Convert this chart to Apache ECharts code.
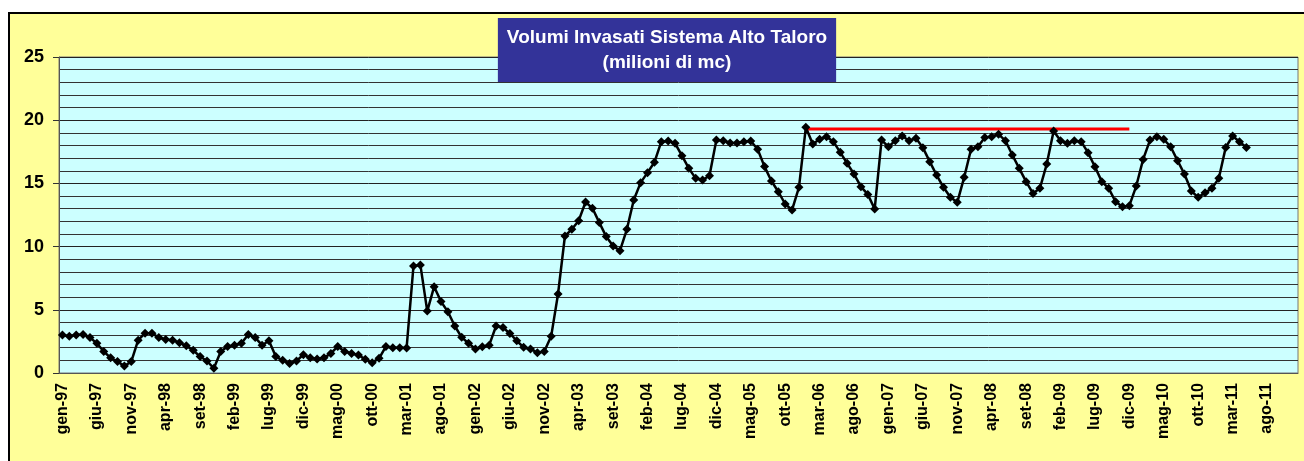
<!DOCTYPE html>
<html>
<head>
<meta charset="utf-8">
<script src="https://cdn.jsdelivr.net/npm/echarts@6/dist/echarts.min.js"></script>
<style>
    body { margin: 0; background: #ffffff; overflow: hidden; }
    #frame {
        position: absolute;
        left: 8px;
        top: 12px;
        width: 1320px;
        height: 470px;
        border: 2px solid #000;
        background: #ffff99;
    }
    #chart {
        position: absolute;
        left: 0;
        top: 0;
        width: 1304px;
        height: 461px;
    }
</style>
</head>
<body>
<div id="frame"></div>
<div id="chart"></div>
<script>
// mesi e anni per le etichette dell'asse
const months = ['gen', 'feb', 'mar', 'apr', 'mag', 'giu', 'lug', 'ago', 'set', 'ott', 'nov', 'dic']
const years = ['97', '98', '99', '00', '01', '02', '03', '04', '05', '06', '07', '08', '09', '10', '11']

// volumi invasati (milioni di mc), un array per anno
const vol1997 = [3.0, 2.9, 3.0, 3.05, 2.8, 2.35, 1.7, 1.2, 0.9, 0.55, 0.9, 2.6]
const vol1998 = [3.15, 3.15, 2.8, 2.65, 2.6, 2.4, 2.15, 1.8, 1.3, 0.95, 0.37, 1.7]
const vol1999 = [2.1, 2.2, 2.35, 3.05, 2.8, 2.2, 2.55, 1.3, 1.0, 0.75, 0.95, 1.45]
const vol2000 = [1.2, 1.1, 1.2, 1.55, 2.1, 1.7, 1.55, 1.42, 1.08, 0.82, 1.16, 2.1]
const vol2001 = [2.0, 2.0, 1.98, 8.47, 8.55, 4.9, 6.83, 5.65, 4.85, 3.72, 2.82, 2.35]
const vol2002 = [1.9, 2.08, 2.2, 3.72, 3.6, 3.13, 2.55, 2.03, 1.9, 1.6, 1.7, 2.9]
const vol2003 = [6.25, 10.84, 11.37, 12.05, 13.53, 13.03, 11.9, 10.79, 10.05, 9.68, 11.37, 13.69]
const vol2004 = [15.06, 15.85, 16.67, 18.3, 18.36, 18.17, 17.19, 16.19, 15.4, 15.27, 15.61, 18.43]
const vol2005 = [18.38, 18.2, 18.2, 18.3, 18.35, 17.7, 16.33, 15.19, 14.34, 13.37, 12.9, 14.69]
const vol2006 = [19.44, 18.12, 18.5, 18.7, 18.3, 17.46, 16.59, 15.74, 14.74, 14.13, 12.97, 18.43]
const vol2007 = [17.9, 18.38, 18.75, 18.38, 18.57, 17.83, 16.72, 15.66, 14.69, 13.9, 13.5, 15.48]
const vol2008 = [17.7, 17.9, 18.64, 18.7, 18.88, 18.38, 17.25, 16.19, 15.14, 14.21, 14.61, 16.53]
const vol2009 = [19.15, 18.38, 18.17, 18.38, 18.3, 17.43, 16.32, 15.14, 14.61, 13.55, 13.16, 13.24]
const vol2010 = [14.79, 16.9, 18.43, 18.7, 18.49, 17.9, 16.8, 15.74, 14.4, 13.9, 14.27, 14.61]
const vol2011 = [15.4, 17.85, 18.75, 18.3, 17.85]

// linea rossa del massimo invaso
const maxLevel = 19.3
const maxFrom = 'gen-06'
const maxTo = 'dic-09'

let categories = []
years.forEach(y => months.forEach(m => categories.push(m + '-' + y)))

const volumes = [].concat(vol1997, vol1998, vol1999, vol2000, vol2001, vol2002, vol2003,
    vol2004, vol2005, vol2006, vol2007, vol2008, vol2009, vol2010, vol2011)

const iFrom = categories.indexOf(maxFrom)
const iTo = categories.indexOf(maxTo)
const maxLine = categories.map((c, i) => (i >= iFrom && i <= iTo) ? maxLevel : null)

const font = '"Liberation Sans", Arial, sans-serif'

let chart = echarts.init(document.querySelector('#chart'))
chart.setOption({
    animation: false,
    backgroundColor: 'transparent',
    title: {
        text: 'Volumi Invasati Sistema Alto Taloro\n(milioni di mc)',
        left: 658,
        top: 18,
        textAlign: 'center',
        backgroundColor: '#333399',
        padding: [7, 9, 7, 9],
        textStyle: {
            color: '#ffffff',
            fontSize: 19,
            fontWeight: 'bold',
            fontFamily: font,
            lineHeight: 25
        }
    },
    grid: {
        left: 59,
        top: 57,
        right: 6,
        bottom: 88,
        show: true,
        backgroundColor: '#ccffff',
        borderColor: '#777',
        borderWidth: 1
    },
    xAxis: {
        type: 'category',
        data: categories,
        boundaryGap: true,
        axisLine: { lineStyle: { color: '#555', width: 1 } },
        axisTick: { interval: 4, length: 5, lineStyle: { color: '#333' } },
        axisLabel: {
            interval: 4,
            rotate: 90,
            margin: 10,
            color: '#000',
            fontSize: 16,
            fontWeight: 'bold',
            fontFamily: font
        },
        splitLine: { show: false }
    },
    yAxis: {
        type: 'value',
        min: 0,
        max: 25,
        interval: 5,
        axisLine: { show: true, lineStyle: { color: '#555' } },
        axisTick: { show: true, length: 6, lineStyle: { color: '#333' } },
        axisLabel: {
            margin: 15,
            color: '#000',
            fontSize: 18,
            fontWeight: 'bold',
            fontFamily: font
        },
        splitLine: { lineStyle: { color: '#222', width: 1 } },
        minorTick: { show: false, splitNumber: 5 },
        minorSplitLine: { show: true, lineStyle: { color: '#333', width: 1 } }
    },
    series: [
        {
            type: 'line',
            data: volumes,
            symbol: 'diamond',
            symbolSize: 9,
            showAllSymbol: true,
            lineStyle: { color: '#000', width: 2.5 },
            itemStyle: { color: '#000' },
            z: 3
        },
        {
            type: 'line',
            data: maxLine,
            symbol: 'none',
            lineStyle: { color: '#ff0000', width: 3 },
            z: 2
        }
    ]
})
</script>
</body>
</html>
